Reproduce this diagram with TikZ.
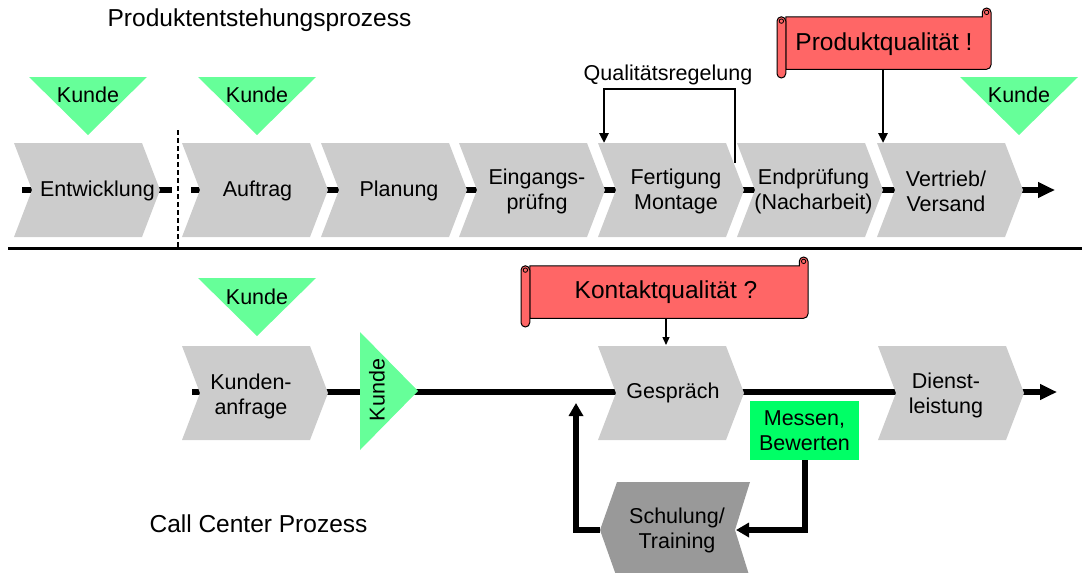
\documentclass[tikz,border=0pt]{standalone}
\usepackage{fontspec}
\setmainfont{Liberation Sans}
\usetikzlibrary{arrows.meta}
\definecolor{chevgray}{HTML}{CCCCCC}
\definecolor{darkgray}{HTML}{999999}
\definecolor{kundegreen}{HTML}{66FF99}
\definecolor{messgreen}{HTML}{00FF66}
\definecolor{scrollred}{HTML}{FF6666}
\tikzset{
  lbl/.style={font=\fontsize{21.5}{25}\selectfont, align=center, inner sep=0pt},
  biglbl/.style={font=\fontsize{24.5}{28}\selectfont, align=center, inner sep=0pt},
  mainline/.style={line width=6pt},
  mainarrow/.style={line width=6pt, -{Triangle[length=17pt,width=15pt]}},
  looparrow/.style={line width=6pt, -{Triangle[length=13pt,width=14pt]}},
  qarrow/.style={line width=2.6pt, -{Triangle[length=10pt,width=9pt]}},
  thinarrow/.style={line width=1.3pt, -{Triangle[length=8pt,width=7pt]}},
  scrollst/.style={fill=scrollred, draw=black, line width=1pt},
}
% chevron: name, left x, top y, fill colour
\newcommand\mychev[4]{%
  \fill[#4] (#2,#3) -- (#2+128,#3) -- (#2+146,#3+47) -- (#2+128,#3+94)
    -- (#2,#3+94) -- (#2+18,#3+47) -- cycle;
  \coordinate (#1-w) at (#2+18,#3+47);
  \coordinate (#1-e) at (#2+146,#3+47);
}
% downward triangle: name, left x, top y
\newcommand\mytri[3]{%
  \fill[kundegreen] (#2,#3) -- (#2+118,#3) -- (#2+59,#3+58) -- cycle;
  \coordinate (#1-tip) at (#2+59,#3+58);
}
% scroll: L, R, T, B
\newcommand\myscroll[4]{%
  \filldraw[scrollst] (#1+8.75,#3+8.75) -- (#2-8.75,#3+8.75) -- (#2-8.75,#3+4.375)
    arc[start angle=180,end angle=360,radius=4.375]
    -- (#2,#4-13.125) arc[start angle=0,end angle=90,radius=4.375]
    -- (#1+8.75,#4-8.75) -- cycle;
  \filldraw[scrollst, line width=0.8pt] (#2-4.375,#3+4.375) circle[radius=2.2];
  \filldraw[scrollst] (#1,#3+13.125) arc[start angle=180,end angle=360,radius=4.375]
    -- (#1+8.75,#4-4.375) arc[start angle=0,end angle=180,radius=4.375] -- cycle;
  \filldraw[scrollst, line width=0.8pt] (#1+4.375,#3+13.125) circle[radius=2.2];
}
\begin{document}
\begin{tikzpicture}[x=1pt,y=-1pt]
\useasboundingbox (0,0) rectangle (1085,573);
\clip (0,0) rectangle (1085,573);

% titles
\node[biglbl] (t1) at (259.5,20) {Produktentstehungsprozess};
\node[biglbl] (t2) at (258.5,524) {Call Center Prozess};

% ---------- top process ----------
\coordinate (a0) at (22,190);
\coordinate (a1) at (172,190);
\coordinate (a2) at (191,190);
\coordinate (aend) at (1055,190);
\draw[mainline] (a0) -- (a1);
\draw[mainarrow] (a2) -- (aend);

\mychev{c1}{14}{143}{chevgray}
\mychev{c2}{182}{143}{chevgray}
\mychev{c3}{321}{143}{chevgray}
\mychev{c4}{459}{143}{chevgray}
\mychev{c5}{598}{143}{chevgray}
\mychev{c6}{737}{143}{chevgray}
\mychev{c7}{877}{143}{chevgray}

\node[lbl] (entw) at (97.5,191) {Entwicklung};
\node[lbl] (auft) at (257.5,191) {Auftrag};
\node[lbl] (plan) at (399,191) {Planung};
\node[lbl] (eing) at (537,191) {Eingangs-\\prüfng};
\node[lbl] (fert) at (676,191) {Fertigung\\Montage};
\node[lbl] (endp) at (813.5,191) {Endprüfung\\(Nacharbeit)};
\node[lbl] (vert) at (946,191) {Vertrieb/\\Versand};

% customer triangles top
\mytri{k1}{29}{77}
\mytri{k2}{198}{77}
\mytri{k3}{960}{77}
\node[lbl] (k1t) at (88,95) {Kunde};
\node[lbl] (k2t) at (257,95) {Kunde};
\node[lbl] (k3t) at (1019,95) {Kunde};

% dashed separator
\coordinate (d0) at (178,130);
\coordinate (d1) at (178,247);
\draw[line width=2pt, dash pattern=on 5pt off 3pt] (d0) -- (d1);

% Qualitaetsregelung loop
\node[lbl] (qr) at (668,75) {Qualitätsregelung};
\coordinate (qra) at (735,163);
\coordinate (qrt) at (670,89);
\coordinate (qrb) at (604,143);
\draw[qarrow] (qra) -- (qra |- qrt) -| (qrb);

% Produktqualitaet scroll
\myscroll{777}{991}{8}{78}
\node[biglbl] (pq) at (884,44) {Produktqualität !};
\coordinate (pqa) at (883,70);
\coordinate (pqb) at (883,143);
\draw[qarrow] (pqa) -- (pqb);

% separator
\coordinate (s0) at (8,248);
\coordinate (s1) at (1082,248);
\draw[line width=3pt] (s0) -- (s1);

% ---------- bottom process ----------
\coordinate (b0) at (192,392);
\coordinate (bend) at (1057,392);
\draw[mainarrow] (b0) -- (bend);

\mychev{d1}{182}{346}{chevgray}
\mychev{d2}{598}{346}{chevgray}
\mychev{d3}{878}{346}{chevgray}
\node[lbl] (kanf) at (251,396) {Kunden-\\anfrage};
\node[lbl] (gesp) at (673,393) {Gespräch};
\node[lbl] (dien) at (946,395) {Dienst-\\leistung};

\mytri{k4}{198}{278}
\node[lbl] (k4t) at (257,297) {Kunde};
\fill[kundegreen] (360,332) -- (418,391) -- (360,450) -- cycle;
\node[lbl, rotate=90] (k5t) at (377,390) {Kunde};

% Kontaktqualitaet scroll
\myscroll{521}{808}{257}{327}
\node[biglbl] (kq) at (666,292) {Kontaktqualität ?};
\coordinate (kqa) at (666,318);
\coordinate (kqb) at (666,345);
\draw[thinarrow] (kqa) -- (kqb);

% Messen box
\node[lbl, fill=messgreen, minimum width=109pt, minimum height=59pt] (mess) at (804.5,430.5) {Messen,\\Bewerten};

% Schulung chevron (pointing left)
\fill[darkgray] (617,482) -- (750,482) -- (735,530) -- (750,578) -- (617,578) -- (600,530) -- cycle;
\coordinate (sch-e) at (736,530);
\coordinate (sch-w) at (600,530);
\node[lbl] (schu) at (677,530) {Schulung/\\Training};

% feedback loop
\coordinate (gin) at (576,403);
\draw[looparrow] (mess.south) |- (sch-e);
\draw[looparrow] (sch-w) -| (gin);
\end{tikzpicture}
\end{document}
